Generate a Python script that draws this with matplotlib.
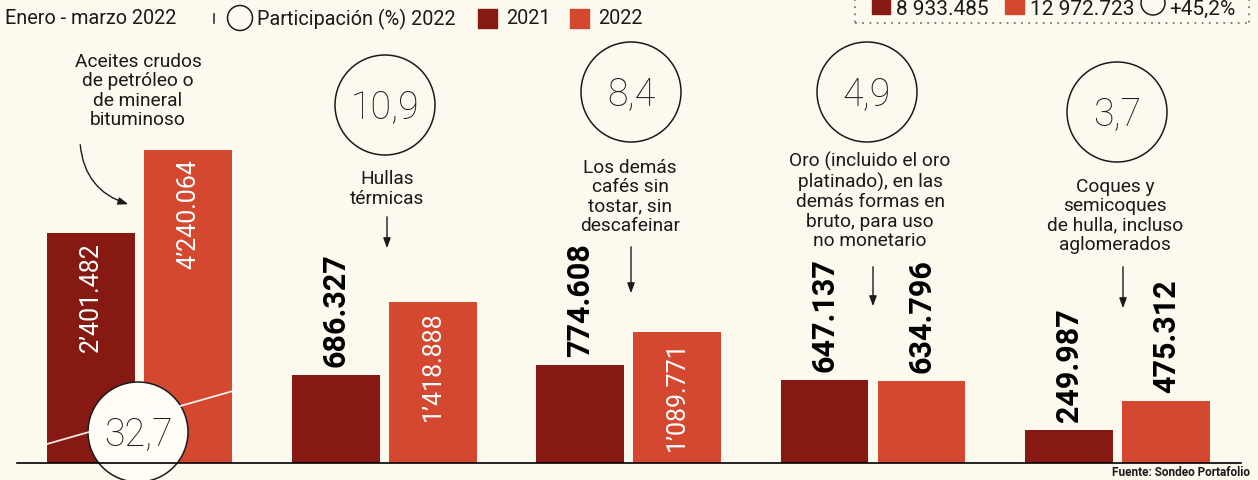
import matplotlib
matplotlib.use('Agg')
import numpy as np
import matplotlib.pyplot as plt
from matplotlib.patches import Circle, Rectangle
from matplotlib import font_manager

# datos: exportaciones enero - marzo (miles de dolares FOB)
productos = ['Aceites crudos\nde petróleo o\nde mineral\nbituminoso',
             'Hullas\ntérmicas',
             'Los demás\ncafés sin\ntostar, sin\ndescafeinar',
             'Oro (incluido el oro\nplatinado), en las\ndemás formas en\nbruto, para uso\nno monetario',
             'Coques y\nsemicoques\nde hulla, incluso\naglomerados']
valores_2021 = [2401482, 686327, 774608, 647137, 249987]
valores_2022 = [4240064, 1418888, 1089771, 634796, 475312]
participacion = [32.7, 10.9, 8.4, 4.9, 3.7]
total_2021 = 8933485
total_2022 = 12972723
variacion = 45.2

C2021 = '#861a12'
C2022 = '#d3482f'
FONDO = '#fcf9ef'
TINTA = '#1a1a1a'

installed = {f.name for f in font_manager.fontManager.ttflist}
FUENTE = 'Roboto' if 'Roboto' in installed else 'DejaVu Sans'
if 'Liberation Sans Narrow' in installed:
    ANGOSTA, TAM_NUM = 'Liberation Sans Narrow', 25
else:
    ANGOSTA, TAM_NUM = FUENTE, 22
plt.rcParams['font.family'] = [FUENTE, 'DejaVu Sans']


def fmt_valor(v):
    if v >= 1000000:
        return '{}’{:03d}.{:03d}'.format(v // 1000000, (v // 1000) % 1000, v % 1000)
    return '{}.{:03d}'.format(v // 1000, v % 1000)


def fmt_total(v):
    return '{} {:03d}.{:03d}'.format(v // 1000000, (v // 1000) % 1000, v % 1000)


def fmt_pct(p):
    return '{:.1f}'.format(p).replace('.', ',')


W, H = 1258, 481
fig = plt.figure(figsize=(W / 100, H / 100), dpi=100)
fig.patch.set_facecolor(FONDO)

# ejes de las barras: escala asinh (el original comprime las barras grandes)
lin = 1150000
ax = fig.add_axes([0, 17 / H, 1, 464 / H])
ax.set_facecolor('none')
ax.set_yscale('asinh', linear_width=lin)
tmax = lin * np.arcsinh(max(valores_2022) / lin) * 464 / 313
ax.set_ylim(0, lin * np.sinh(tmax / lin))
paso = 244.5
izq = -139.5 / paso
ax.set_xlim(izq, izq + W / paso)
ax.axis('off')

x = np.arange(len(productos))
ancho = 88 / paso
desp = 48.5 / paso
ax.bar(x - desp, valores_2021, width=ancho, color=C2021, zorder=2)
ax.bar(x + desp, valores_2022, width=ancho, color=C2022, zorder=2)

for xs, vals in ((x - desp, valores_2021), (x + desp, valores_2022)):
    for xi, v in zip(xs, vals):
        if v > 1000000:
            ax.annotate(fmt_valor(v), (xi, v), xytext=(0, -8), textcoords='offset pixels',
                        rotation=90, ha='center', va='top', color='white',
                        fontsize=18, family=FUENTE, zorder=3)
        else:
            ax.annotate(fmt_valor(v), (xi, v), xytext=(0, 9), textcoords='offset pixels',
                        rotation=90, ha='center', va='bottom', color='black',
                        fontsize=TAM_NUM, fontweight='bold', family=ANGOSTA, zorder=3)

# capa de anotaciones en pixeles
ov = fig.add_axes([0, 0, 1, 1], zorder=5)
ov.set_xlim(0, W)
ov.set_ylim(H, 0)
ov.axis('off')
ov.patch.set_alpha(0)

ov.plot([17, 1241], [464, 464], color='black', lw=1.2)
ov.plot([47, 233], [445, 392], color='white', lw=1.3, alpha=0.9)

pos_circulo = [(138, 433), (385, 106), (631, 93), (867, 93), (1117, 113)]
pos_texto = [(138, 91), (387, 189), (630, 197), (870, 201), (1115, 216)]
for (cx, cy), pct in zip(pos_circulo, participacion):
    relleno = '#fffdf6' if cy > 300 else 'none'
    ov.add_patch(Circle((cx, cy), 50, facecolor=relleno, edgecolor=TINTA, lw=1.1))
    ov.text(cx, cy + 1, fmt_pct(pct), ha='center', va='center', fontsize=27,
            fontweight='light', color=TINTA)

for (tx, ty), nombre in zip(pos_texto, productos):
    ov.text(tx, ty, nombre, ha='center', va='center', fontsize=13.8, linespacing=1.1,
            color=TINTA)

flecha = dict(arrowstyle='-|>,head_length=0.6,head_width=0.22', color=TINTA, lw=1)
ov.annotate('', xy=(131, 206), xytext=(80, 143),
            arrowprops=dict(connectionstyle='arc3,rad=0.35', **flecha))
for x0, y0, y1 in [(387, 215, 252), (631, 245, 297), (873, 265, 310), (1123, 265, 312)]:
    ov.annotate('', xy=(x0, y1), xytext=(x0, y0), arrowprops=flecha)

# leyenda
TAM_LEY = 14.3
ov.text(5, 19, 'Enero - marzo 2022', ha='left', va='center', fontsize=TAM_LEY, color=TINTA)
ov.plot([214, 214], [15, 24], color='#333333', lw=1.2)
ov.add_patch(Circle((240, 19), 12.5, facecolor='none', edgecolor=TINTA, lw=1.1))
ov.text(257, 19, 'Participación (%) 2022', ha='left', va='center', fontsize=TAM_LEY, color=TINTA)
ov.add_patch(Rectangle((478, 10), 19, 19, color=C2021))
ov.text(506, 19, '2021', ha='left', va='center', fontsize=TAM_LEY, color=TINTA)
ov.add_patch(Rectangle((570, 10), 19, 19, color=C2022))
ov.text(598, 19, '2022', ha='left', va='center', fontsize=TAM_LEY, color=TINTA)

# recuadro de totales (cortado arriba)
punteado = dict(color='#777777', lw=1.3, linestyle=(0, (1, 3)))
ov.plot([855, 1249], [24, 24], **punteado)
ov.plot([855, 855], [0, 24], **punteado)
ov.plot([1249, 1249], [0, 24], **punteado)
ov.add_patch(Rectangle((872, -4), 18, 19, color=C2021))
ov.text(896, 15, fmt_total(total_2021), ha='left', va='baseline', fontsize=15, color=TINTA)
ov.add_patch(Rectangle((1005, -4), 19, 19, color=C2022))
ov.text(1030, 15, fmt_total(total_2022), ha='left', va='baseline', fontsize=15, color=TINTA)
ov.add_patch(Circle((1153, 4), 12, facecolor='none', edgecolor=TINTA, lw=1.1))
ov.text(1169, 15, '+' + fmt_pct(variacion) + '%', ha='left', va='baseline', fontsize=15,
        color=TINTA)

ov.text(1112, 479, 'Fuente: Sondeo Portafolio', ha='left', va='bottom', fontsize=8.5,
        fontweight='bold', color=TINTA)

fig.savefig('out.png', dpi=100, facecolor=fig.get_facecolor())
